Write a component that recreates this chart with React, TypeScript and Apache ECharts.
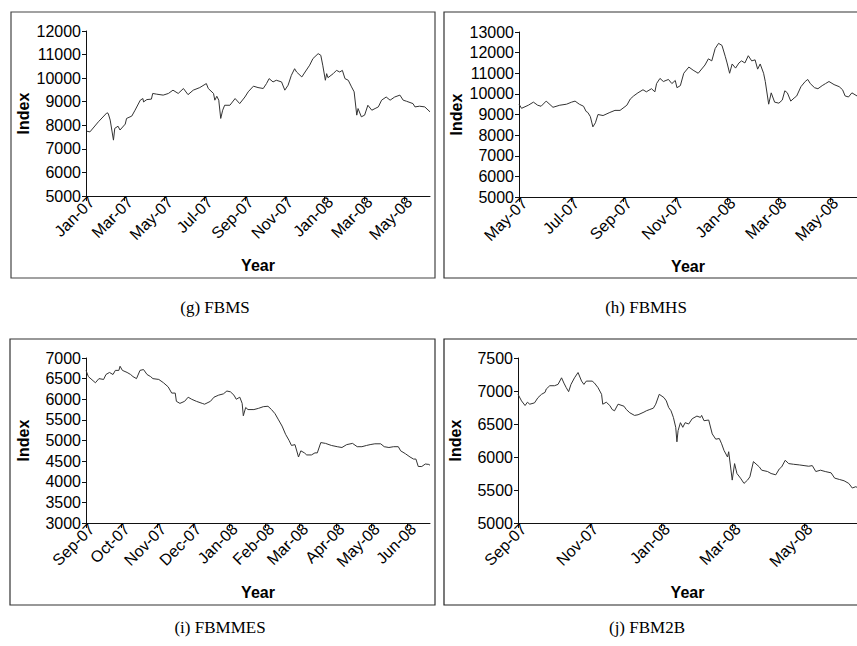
import React, { useEffect, useRef } from "react";
import * as echarts from "echarts";

// ---- Data ----
const fbmsTicks = ["Jan-07", "Mar-07", "May-07", "Jul-07", "Sep-07", "Nov-07", "Jan-08", "Mar-08", "May-08"];
const fbmhsTicks = ["May-07", "Jul-07", "Sep-07", "Nov-07", "Jan-08", "Mar-08", "May-08"];
const fbmmesTicks = ["Sep-07", "Oct-07", "Nov-07", "Dec-07", "Jan-08", "Feb-08", "Mar-08", "Apr-08", "May-08", "Jun-08"];
const fbm2bTicks = ["Sep-07", "Nov-07", "Jan-08", "Mar-08", "May-08"];

const fbms: [string, number][] = [
  ["2007-01-02", 7750], ["2007-01-07", 7720], ["2007-01-20", 8150], ["2007-02-02", 8530], ["2007-02-04", 8500],
  ["2007-02-07", 8220], ["2007-02-12", 7370], ["2007-02-14", 7870], ["2007-02-19", 7960], ["2007-02-22", 7800],
  ["2007-03-02", 8050], ["2007-03-04", 8290], ["2007-03-12", 8390], ["2007-03-17", 8640], ["2007-03-25", 9065],
  ["2007-03-29", 9135], ["2007-03-30", 8990], ["2007-04-04", 9090], ["2007-04-11", 9110], ["2007-04-13", 9350],
  ["2007-04-19", 9320], ["2007-04-29", 9280], ["2007-05-07", 9350], ["2007-05-14", 9490], ["2007-05-22", 9350],
  ["2007-05-30", 9560], ["2007-06-06", 9300], ["2007-06-14", 9490], ["2007-06-24", 9600], ["2007-07-04", 9770],
  ["2007-07-07", 9560], ["2007-07-15", 9350], ["2007-07-17", 9065], ["2007-07-20", 9230], ["2007-07-23", 9065],
  ["2007-07-26", 8290], ["2007-07-29", 8640], ["2007-08-01", 8850], ["2007-08-09", 8850], ["2007-08-17", 9135],
  ["2007-08-24", 8920], ["2007-09-01", 9200], ["2007-09-06", 9420], ["2007-09-14", 9660], ["2007-09-21", 9600],
  ["2007-09-29", 9560], ["2007-10-04", 9770], ["2007-10-08", 9980], ["2007-10-14", 9840], ["2007-10-19", 9910],
  ["2007-10-27", 9840], ["2007-11-01", 9490], ["2007-11-06", 9700], ["2007-11-11", 10120], ["2007-11-16", 10400],
  ["2007-11-19", 10260], ["2007-11-27", 10050], ["2007-12-02", 10260], ["2007-12-09", 10550], ["2007-12-14", 10830],
  ["2007-12-22", 11040], ["2007-12-26", 10970], ["2007-12-29", 10550], ["2008-01-02", 9910], ["2008-01-04", 10190],
  ["2008-01-06", 10020], ["2008-01-14", 10190], ["2008-01-19", 10330], ["2008-01-24", 10260], ["2008-01-28", 10330],
  ["2008-02-01", 9980], ["2008-02-06", 9910], ["2008-02-11", 9630], ["2008-02-15", 9420], ["2008-02-19", 8430],
  ["2008-02-21", 8710], ["2008-02-26", 8360], ["2008-03-02", 8430], ["2008-03-07", 8850], ["2008-03-13", 8640],
  ["2008-03-18", 8710], ["2008-03-23", 8780], ["2008-03-28", 9065], ["2008-04-04", 9200], ["2008-04-10", 9065],
  ["2008-04-17", 9200], ["2008-04-25", 9280], ["2008-04-30", 9065], ["2008-05-05", 9020], ["2008-05-15", 8920],
  ["2008-05-18", 8780], ["2008-05-25", 8810], ["2008-06-02", 8780], ["2008-06-10", 8570],
];

const fbmhs: [string, number][] = [
  ["2007-05-01", 9500], ["2007-05-04", 9300], ["2007-05-12", 9450], ["2007-05-18", 9600], ["2007-05-23", 9450],
  ["2007-05-27", 9400], ["2007-06-02", 9650], ["2007-06-10", 9350], ["2007-06-18", 9450], ["2007-06-26", 9500],
  ["2007-07-02", 9600], ["2007-07-06", 9650], ["2007-07-11", 9500], ["2007-07-16", 9400], ["2007-07-19", 9150],
  ["2007-07-21", 9100], ["2007-07-24", 8900], ["2007-07-27", 8400], ["2007-07-30", 8600], ["2007-08-02", 9000],
  ["2007-08-08", 8950], ["2007-08-16", 9100], ["2007-08-22", 9200], ["2007-08-28", 9200], ["2007-09-05", 9450],
  ["2007-09-09", 9750], ["2007-09-13", 9900], ["2007-09-18", 10050], ["2007-09-24", 10200], ["2007-09-28", 10100],
  ["2007-10-04", 10250], ["2007-10-08", 10100], ["2007-10-10", 10500], ["2007-10-14", 10750], ["2007-10-18", 10600],
  ["2007-10-24", 10700], ["2007-10-28", 10500], ["2007-11-01", 10650], ["2007-11-03", 10300], ["2007-11-07", 10400],
  ["2007-11-11", 11000], ["2007-11-17", 11300], ["2007-11-22", 11150], ["2007-11-28", 11000], ["2007-12-06", 11400],
  ["2007-12-10", 11700], ["2007-12-14", 11600], ["2007-12-18", 12200], ["2007-12-22", 12450], ["2007-12-26", 12350],
  ["2007-12-30", 11800], ["2008-01-01", 11500], ["2008-01-04", 11000], ["2008-01-07", 11450], ["2008-01-11", 11250],
  ["2008-01-15", 11500], ["2008-01-18", 11600], ["2008-01-22", 11500], ["2008-01-26", 11850], ["2008-01-30", 11600],
  ["2008-02-03", 11650], ["2008-02-06", 11200], ["2008-02-09", 11450], ["2008-02-13", 11000], ["2008-02-15", 10600],
  ["2008-02-19", 9500], ["2008-02-22", 10050], ["2008-02-26", 9600], ["2008-03-02", 9550], ["2008-03-06", 9700],
  ["2008-03-09", 10150], ["2008-03-12", 10050], ["2008-03-16", 9650], ["2008-03-20", 9800], ["2008-03-23", 9900],
  ["2008-03-28", 10350], ["2008-04-02", 10600], ["2008-04-05", 10700], ["2008-04-08", 10500], ["2008-04-13", 10300],
  ["2008-04-17", 10250], ["2008-04-22", 10400], ["2008-04-26", 10500], ["2008-04-30", 10600], ["2008-05-06", 10450],
  ["2008-05-12", 10350], ["2008-05-16", 10200], ["2008-05-19", 9900], ["2008-05-23", 9850], ["2008-05-27", 10050],
  ["2008-06-02", 9900],
];

const fbmmes: [string, number][] = [
  ["2007-09-01", 6700], ["2007-09-03", 6550], ["2007-09-07", 6450], ["2007-09-09", 6400], ["2007-09-12", 6500],
  ["2007-09-16", 6480], ["2007-09-18", 6600], ["2007-09-21", 6650], ["2007-09-24", 6600], ["2007-09-26", 6700],
  ["2007-09-29", 6700], ["2007-09-30", 6800], ["2007-10-02", 6700], ["2007-10-06", 6650], ["2007-10-09", 6600],
  ["2007-10-11", 6550], ["2007-10-14", 6500], ["2007-10-17", 6700], ["2007-10-20", 6720], ["2007-10-23", 6600],
  ["2007-10-26", 6550], ["2007-10-28", 6500], ["2007-11-02", 6480], ["2007-11-06", 6400], ["2007-11-10", 6300],
  ["2007-11-13", 6150], ["2007-11-16", 6150], ["2007-11-17", 5950], ["2007-11-20", 5900], ["2007-11-24", 5950],
  ["2007-11-27", 6050], ["2007-11-30", 6000], ["2007-12-04", 5950], ["2007-12-09", 5900], ["2007-12-11", 5880],
  ["2007-12-16", 5950], ["2007-12-19", 6050], ["2007-12-23", 6100], ["2007-12-27", 6130], ["2007-12-30", 6200],
  ["2008-01-02", 6180], ["2008-01-05", 6100], ["2008-01-07", 6000], ["2008-01-10", 6050], ["2008-01-12", 5900],
  ["2008-01-13", 5600], ["2008-01-15", 5800], ["2008-01-17", 5750], ["2008-01-22", 5750], ["2008-01-26", 5780],
  ["2008-01-30", 5820], ["2008-02-03", 5830], ["2008-02-06", 5750], ["2008-02-09", 5650], ["2008-02-12", 5500],
  ["2008-02-15", 5350], ["2008-02-18", 5150], ["2008-02-21", 5000], ["2008-02-23", 4880], ["2008-02-26", 4900],
  ["2008-02-29", 4600], ["2008-03-02", 4750], ["2008-03-05", 4700], ["2008-03-07", 4650], ["2008-03-11", 4650],
  ["2008-03-14", 4700], ["2008-03-16", 4700], ["2008-03-19", 4950], ["2008-03-23", 4930], ["2008-03-26", 4900],
  ["2008-03-28", 4880], ["2008-04-02", 4850], ["2008-04-06", 4830], ["2008-04-10", 4900], ["2008-04-15", 4930],
  ["2008-04-19", 4850], ["2008-04-23", 4850], ["2008-04-27", 4880], ["2008-04-30", 4900], ["2008-05-04", 4920],
  ["2008-05-09", 4920], ["2008-05-12", 4850], ["2008-05-16", 4830], ["2008-05-20", 4850], ["2008-05-24", 4850],
  ["2008-05-26", 4750], ["2008-05-30", 4680], ["2008-06-03", 4600], ["2008-06-06", 4550], ["2008-06-08", 4550],
  ["2008-06-10", 4370], ["2008-06-13", 4370], ["2008-06-16", 4430], ["2008-06-19", 4420], ["2008-06-20", 4400],
];

const fbm2b: [string, number][] = [
  ["2007-09-01", 6950], ["2007-09-04", 6850], ["2007-09-07", 6780], ["2007-09-09", 6830], ["2007-09-11", 6800],
  ["2007-09-15", 6820], ["2007-09-18", 6900], ["2007-09-21", 6950], ["2007-09-24", 6980], ["2007-09-25", 7030],
  ["2007-09-28", 7080], ["2007-10-02", 7080], ["2007-10-05", 7100], ["2007-10-08", 7200], ["2007-10-10", 7120],
  ["2007-10-12", 7050], ["2007-10-14", 6990], ["2007-10-16", 7100], ["2007-10-19", 7200], ["2007-10-22", 7280],
  ["2007-10-25", 7150], ["2007-10-27", 7100], ["2007-10-29", 7150], ["2007-11-03", 7150], ["2007-11-05", 7120],
  ["2007-11-08", 7050], ["2007-11-11", 6950], ["2007-11-12", 6800], ["2007-11-15", 6830], ["2007-11-18", 6780],
  ["2007-11-20", 6720], ["2007-11-22", 6700], ["2007-11-25", 6800], ["2007-11-30", 6770], ["2007-12-02", 6720],
  ["2007-12-05", 6670], ["2007-12-09", 6630], ["2007-12-12", 6640], ["2007-12-17", 6680], ["2007-12-19", 6700],
  ["2007-12-22", 6720], ["2007-12-25", 6740], ["2007-12-27", 6800], ["2007-12-30", 6950], ["2008-01-03", 6900],
  ["2008-01-05", 6850], ["2008-01-07", 6750], ["2008-01-09", 6700], ["2008-01-11", 6600], ["2008-01-13", 6450],
  ["2008-01-14", 6230], ["2008-01-15", 6400], ["2008-01-17", 6520], ["2008-01-19", 6450], ["2008-01-21", 6520],
  ["2008-01-24", 6500], ["2008-01-27", 6580], ["2008-01-31", 6620], ["2008-02-03", 6600], ["2008-02-04", 6630],
  ["2008-02-06", 6550], ["2008-02-10", 6560], ["2008-02-13", 6350], ["2008-02-16", 6270], ["2008-02-19", 6280],
  ["2008-02-21", 6200], ["2008-02-23", 6100], ["2008-02-26", 6000], ["2008-02-27", 6080], ["2008-03-01", 5650],
  ["2008-03-03", 5900], ["2008-03-05", 5750], ["2008-03-08", 5680], ["2008-03-11", 5600], ["2008-03-14", 5650],
  ["2008-03-16", 5700], ["2008-03-19", 5930], ["2008-03-24", 5850], ["2008-03-26", 5800], ["2008-03-31", 5780],
  ["2008-04-03", 5750], ["2008-04-07", 5730], ["2008-04-10", 5820], ["2008-04-12", 5850], ["2008-04-15", 5950],
  ["2008-04-18", 5900], ["2008-04-22", 5890], ["2008-04-27", 5880], ["2008-05-01", 5870], ["2008-05-05", 5860],
  ["2008-05-08", 5870], ["2008-05-11", 5780], ["2008-05-15", 5800], ["2008-05-19", 5780], ["2008-05-24", 5760],
  ["2008-05-27", 5680], ["2008-05-31", 5660], ["2008-06-04", 5640], ["2008-06-08", 5600], ["2008-06-11", 5530],
  ["2008-06-14", 5550], ["2008-06-15", 5540],
];

const captions = ["(g) FBMS", "(h) FBMHS", "(i) FBMMES", "(j) FBM2B"];
const yRanges = [
  { min: 5000, max: 12000, interval: 1000 },
  { min: 5000, max: 13000, interval: 1000 },
  { min: 3000, max: 7000, interval: 500 },
  { min: 5000, max: 7500, interval: 500 },
];

const MONTHS = ["Jan", "Feb", "Mar", "Apr", "May", "Jun", "Jul", "Aug", "Sep", "Oct", "Nov", "Dec"];
const parseTick = (t: string) => {
  const [m, y] = t.split("-");
  return Date.UTC(2000 + parseInt(y, 10), MONTHS.indexOf(m), 1);
};
const parseDate = (d: string) => {
  const [y, m, dd] = d.split("-").map((s) => parseInt(s, 10));
  return Date.UTC(y, m - 1, dd);
};
const fmtTick = (v: number) => {
  const d = new Date(v);
  return MONTHS[d.getUTCMonth()] + "-" + String(d.getUTCFullYear() % 100).padStart(2, "0");
};

const FONT = "'Liberation Sans', Arial, sans-serif";

export default function App() {
  const ref = useRef<HTMLDivElement>(null);
  useEffect(() => {
    if (!ref.current) return;
    const chart = echarts.init(ref.current, undefined, { renderer: "svg" });
    const panels = [
      { data: fbms, ticks: fbmsTicks, grid: { left: 86, top: 31, width: 344, height: 165 } },
      { data: fbmhs, ticks: fbmhsTicks, grid: { left: 519, top: 32, width: 338, height: 165 } },
      { data: fbmmes, ticks: fbmmesTicks, grid: { left: 86, top: 358, width: 344, height: 165 } },
      { data: fbm2b, ticks: fbm2bTicks, grid: { left: 518, top: 358, width: 339, height: 165 } },
    ];
    const axisLineStyle = { color: "#111", width: 1 };
    const option: any = {
      animation: false,
      backgroundColor: "#fff",
      grid: panels.map((p) => ({ ...p.grid, containLabel: false })),
      xAxis: panels.map((p, i) => {
        const tickVals = p.ticks.map(parseTick);
        return {
          type: "value",
          gridIndex: i,
          min: tickVals[0],
          max: parseDate(p.data[p.data.length - 1][0]),
          name: "Year",
          nameLocation: "middle",
          nameGap: 61,
          nameTextStyle: { fontFamily: FONT, fontWeight: "bold", fontSize: 16, color: "#000" },
          axisLine: { show: true, onZero: false, lineStyle: axisLineStyle },
          axisTick: { show: true, length: 5, customValues: tickVals, lineStyle: axisLineStyle },
          axisLabel: {
            customValues: tickVals,
            rotate: 45,
            margin: 9,
            padding: [0, -8, 0, 0],
            fontFamily: FONT,
            fontSize: 16,
            color: "#000",
            hideOverlap: false,
            showMinLabel: true,
            showMaxLabel: true,
            formatter: (v: number) => fmtTick(v),
          },
          splitLine: { show: false },
        };
      }),
      yAxis: panels.map((p, i) => ({
        type: "value",
        gridIndex: i,
        ...yRanges[i],
        name: "Index",
        nameLocation: "middle",
        nameGap: 55,
        nameTextStyle: { fontFamily: FONT, fontWeight: "bold", fontSize: 16, color: "#000" },
        axisLine: { show: true, onZero: false, lineStyle: axisLineStyle },
        axisTick: { show: true, length: 4, lineStyle: axisLineStyle },
        axisLabel: {
          fontFamily: FONT,
          fontSize: 16,
          color: "#000",
          margin: 5,
          formatter: (v: number) => String(v),
        },
        splitLine: { show: false },
      })),
      series: panels.map((p, i) => ({
        type: "line",
        xAxisIndex: i,
        yAxisIndex: i,
        showSymbol: false,
        symbol: "none",
        lineStyle: { color: "#333", width: 1 },
        data: p.data.map(([d, v]) => [parseDate(d), v]),
      })),
      graphic: [
        { type: "rect", shape: { x: 11, y: 12, width: 424, height: 266 }, style: { fill: "none", stroke: "#444", lineWidth: 1.2 }, silent: true },
        { type: "rect", shape: { x: 444, y: 12, width: 500, height: 266 }, style: { fill: "none", stroke: "#333", lineWidth: 1.2 }, silent: true },
        { type: "rect", shape: { x: 10, y: 339, width: 425, height: 266 }, style: { fill: "none", stroke: "#333", lineWidth: 1.2 }, silent: true },
        { type: "rect", shape: { x: 444, y: 339, width: 500, height: 266 }, style: { fill: "none", stroke: "#222", lineWidth: 1.2 }, silent: true },
        ...[
          [215, 307],
          [646, 307],
          [220, 627],
          [647, 627],
        ].map(([x, y], i) => ({
          type: "text",
          x,
          y,
          style: {
            text: captions[i],
            fontFamily: "'Liberation Serif', 'Times New Roman', serif",
            fontSize: 17,
            fill: "#000",
            textAlign: "center",
            textVerticalAlign: "middle",
          },
        })),
      ],
    };
    chart.setOption(option);
    return () => chart.dispose();
  }, []);
  return (
    <div
      ref={ref}
      style={{ position: "fixed", left: 0, top: 0, width: 857, height: 646, background: "#fff" }}
    />
  );
}
